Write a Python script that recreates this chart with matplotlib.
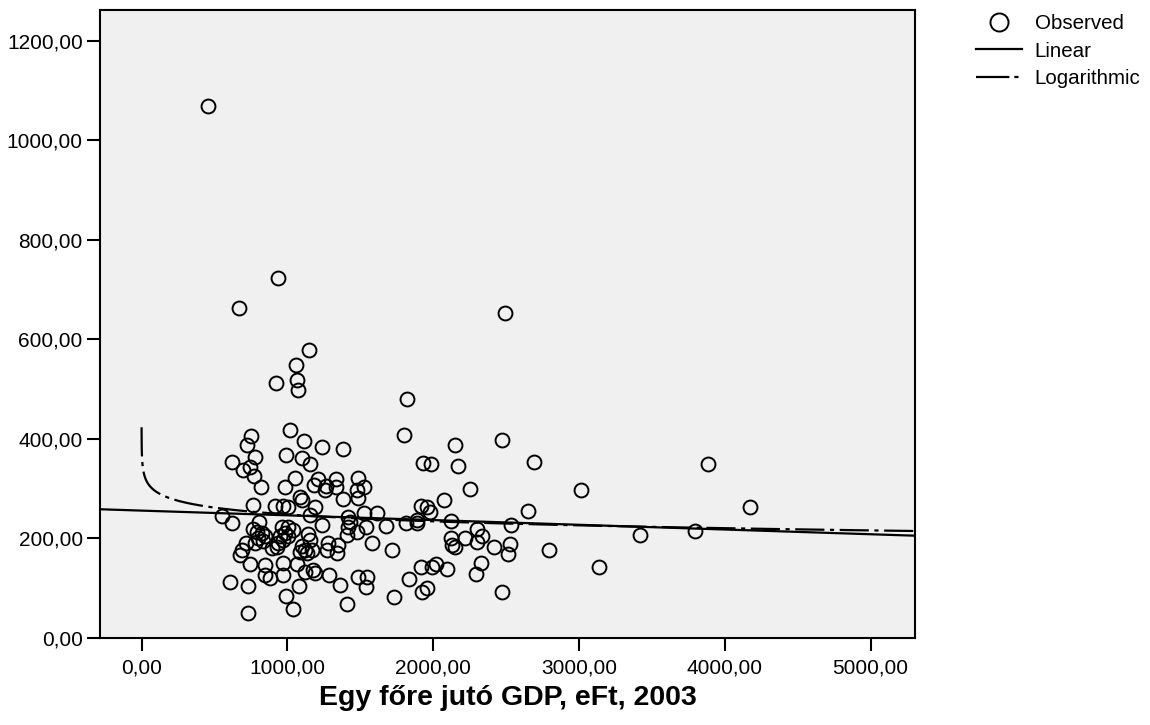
import numpy as np
import matplotlib
matplotlib.use('Agg')
import matplotlib.pyplot as plt
from matplotlib.lines import Line2D
from matplotlib.ticker import FuncFormatter

plt.rcParams['font.family'] = ['Liberation Sans', 'DejaVu Sans']
plt.rcParams['lines.scale_dashes'] = False

# GDP per capita (eFt, 2003)
gdp = [454, 934, 669, 2493, 1149, 1058, 1065, 1071, 920, 1823,
       1019, 749, 722, 1115, 1240, 1380, 1800, 2150, 2471, 778,
       991, 1099, 1156, 623, 694, 744, 774, 818, 984, 1053,
       1209, 1185, 1265, 1259, 1334, 1334, 1483, 1476, 1528, 1487,
       1380, 1087, 1099, 1190, 916, 973, 1007, 767, 554, 619,
       806, 1156, 1236, 1418, 1430, 1418, 1528, 1613, 1538, 1675,
       1476, 1407, 767, 790, 824, 801, 847, 835, 778, 962,
       1007, 1041, 984, 950, 1007, 973, 938, 1144, 1156, 1099,
       1121, 1087, 1167, 1133, 717, 687, 676, 893, 927, 1279,
       1270, 1348, 1339, 1579, 1716, 744, 847, 973, 1065, 847,
       881, 973, 1121, 1178, 1190, 1288, 1362, 1487, 1545, 1538,
       607, 733, 1080, 991, 1041, 1407, 1730, 733,
       1929, 1984, 2173, 2692, 2253, 3012, 2077, 1915, 1956, 1979,
       2649, 1814, 1892, 1892, 2121, 2532, 2303, 2338, 2299, 2219,
       2123, 2128, 2150, 2420, 2528, 2512, 2797, 1915, 1991, 2020,
       2097, 2327, 2292, 1837, 1926, 1956, 2471,
       3884, 4174, 3419, 3794, 3138]
# dependent variable
value = [1069, 724, 663, 653, 579, 549, 519, 498, 512, 480,
         417, 405, 388, 395, 383, 380, 408, 388, 398, 363,
         368, 362, 350, 354, 338, 343, 326, 304, 304, 321,
         320, 308, 306, 297, 319, 303, 321, 297, 303, 281,
         279, 283, 277, 263, 265, 265, 263, 267, 246, 232,
         234, 247, 227, 244, 234, 224, 251, 252, 224, 225,
         214, 207, 220, 214, 210, 200, 205, 194, 190, 224,
         224, 217, 210, 204, 204, 197, 190, 209, 197, 184,
         177, 173, 177, 170, 190, 177, 167, 180, 183, 191,
         177, 187, 171, 190, 177, 149, 147, 150, 149, 127,
         120, 127, 133, 137, 131, 127, 107, 122, 123, 103,
         113, 105, 105, 84, 58, 68, 83, 51,
         351, 349, 346, 353, 299, 297, 277, 266, 263, 254,
         255, 232, 231, 237, 235, 227, 219, 205, 192, 200,
         200, 187, 182, 182, 188, 168, 177, 143, 143, 148,
         138, 150, 128, 118, 93, 100, 92,
         349, 263, 206, 216, 143]

# fitted curves
lin_intercept, lin_slope = 256.0, -0.0095
log_a, log_b = 385.7, -19.9

xlim = (-285, 5305)
ylim = (0, 1262)
xticks = [0, 1000, 2000, 3000, 4000, 5000]
yticks = [0, 200, 400, 600, 800, 1000, 1200]

fig = plt.figure(figsize=(11.5, 7.25), dpi=100)
ax = fig.add_axes([100/1150, 1-638/725, 815/1150, 628/725])
ax.set_facecolor('#f0f0f0')

ax.plot(gdp, value, 'o', ls='none', ms=10, mfc='none', mec='black', mew=1.4)

xl = np.linspace(xlim[0], xlim[1], 50)
ax.plot(xl, lin_intercept + lin_slope * xl, color='black', lw=1.6)

xg = np.logspace(np.log10(0.15), np.log10(xlim[1]), 600)
ax.plot(xg, log_a + log_b * np.log(xg), color='black', lw=1.6,
        dashes=(21, 4, 3, 4))

ax.set_xlim(*xlim)
ax.set_ylim(*ylim)
ax.set_xticks(xticks)
ax.set_yticks(yticks)
fmt = FuncFormatter(lambda v, p: f'{v:.2f}'.replace('.', ','))
ax.xaxis.set_major_formatter(fmt)
ax.yaxis.set_major_formatter(fmt)
ax.tick_params(axis='both', direction='out', length=9.5, width=1.5, labelsize=15)
ax.tick_params(axis='y', pad=3)
ax.tick_params(axis='x', pad=5)
for s in ax.spines.values():
    s.set_linewidth(1.5)

ax.set_xlabel('Egy főre jutó GDP, eFt, 2003', fontsize=20.5, fontweight='bold', va='center')
ax.xaxis.set_label_coords(0.5, -0.0955)

handles = [Line2D([], [], marker='o', ls='none', ms=13, mfc='none', mec='black', mew=1.4),
           Line2D([], [], color='black', lw=1.6),
           Line2D([], [], color='black', lw=1.6, dashes=(24, 3.6, 3, 20))]
fig.legend(handles, ['Observed', 'Linear', 'Logarithmic'], loc='upper left',
           bbox_to_anchor=(976/1150, 1-14/725), frameon=False, fontsize=14.8,
           handlelength=2.25, handletextpad=0.6, labelspacing=0.42,
           borderpad=0, borderaxespad=0)

fig.savefig('out.png', dpi=100)
